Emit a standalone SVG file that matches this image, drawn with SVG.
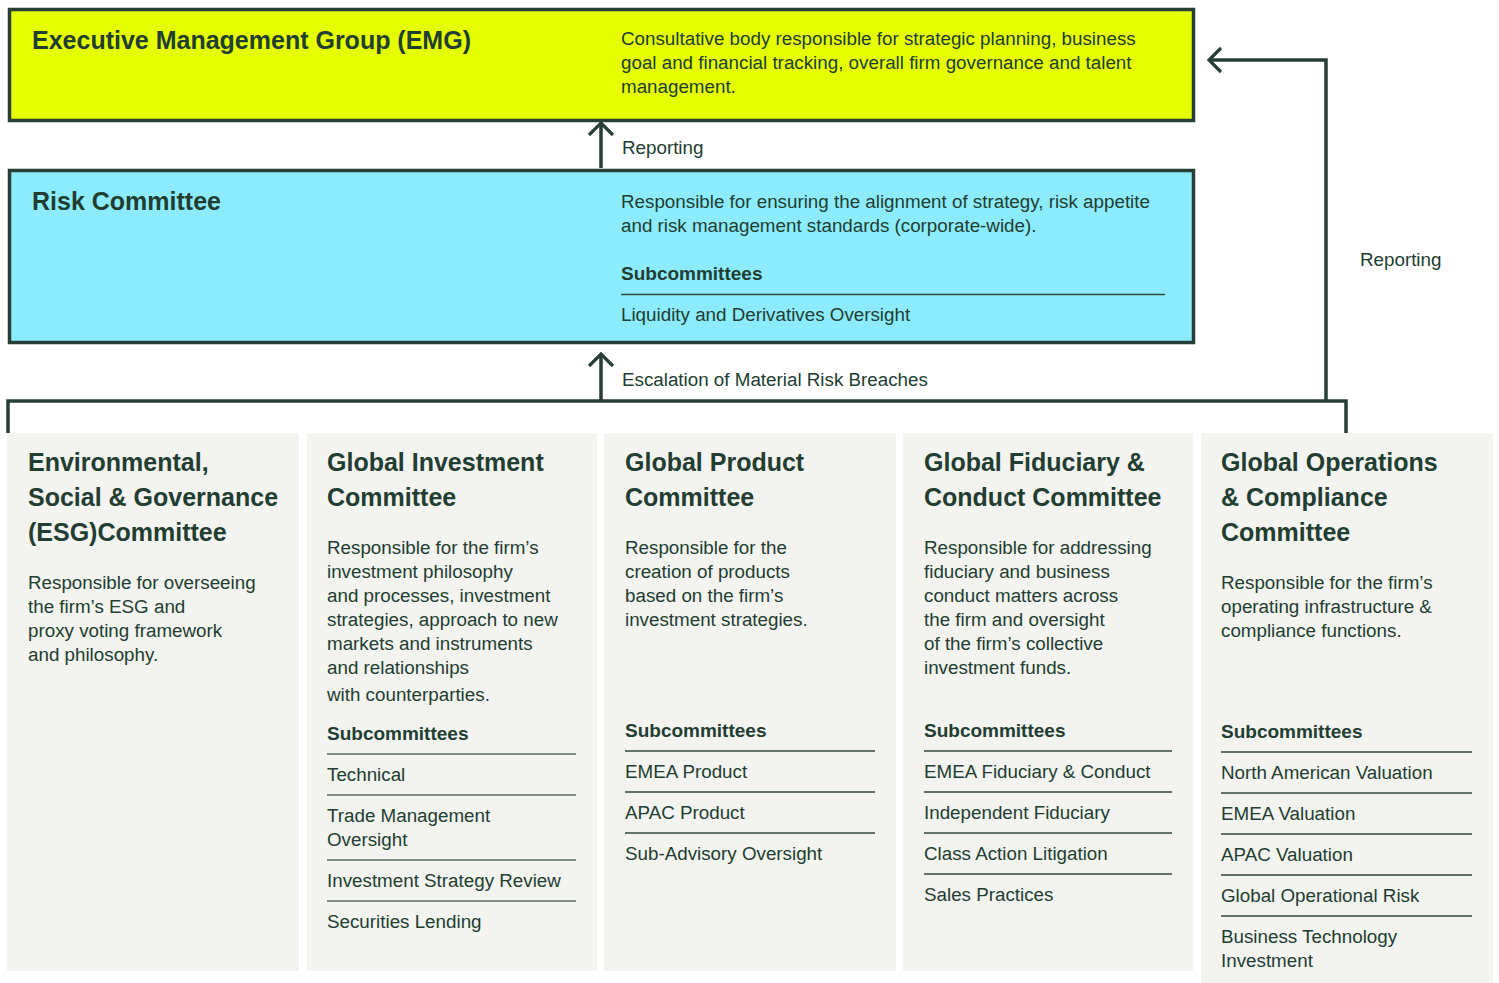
<svg xmlns="http://www.w3.org/2000/svg" width="1499" height="983" viewBox="0 0 1499 983">
<style>
text{font-family:"Liberation Sans",Arial,sans-serif;fill:#223d31}
.t{font-size:25px;font-weight:bold}
.b{font-size:18.8px}
.h{font-size:19px;font-weight:bold}
.lbl{font-size:18.8px}
.panel{fill:#f3f3ef}
.sep{stroke:#33473d;stroke-width:1.5}
.sep2{stroke:#7f8b83;stroke-width:2}
.conn{fill:none;stroke:#283f35;stroke-width:3.5}
</style>
<defs>
<marker id="chev" viewBox="-16 -14 18 28" refX="0" refY="0" markerWidth="18" markerHeight="28" markerUnits="userSpaceOnUse" orient="auto">
<path d="M-12,-12 L0,0 L-12,12" fill="none" stroke="#283f35" stroke-width="3.2"/>
</marker>
</defs>
<rect width="1499" height="983" fill="#ffffff"/>

<g id="connectors">
<path class="conn" d="M601,168 V123" marker-end="url(#chev)"/>
<path class="conn" d="M601,400 V354" marker-end="url(#chev)"/>
<path class="conn" d="M8,433 V401 H1346 V433"/>
<path class="conn" d="M1326,401 V60 H1209" marker-end="url(#chev)"/>
<text class="lbl" x="622" y="154">Reporting</text>
<text class="lbl" x="622" y="386">Escalation of Material Risk Breaches</text>
<text class="lbl" x="1360" y="266">Reporting</text>
</g>

<g id="emg">
<rect x="9.5" y="9.5" width="1184" height="111" fill="#e5ff00" stroke="#283f35" stroke-width="3.5"/>
<text class="t" x="32" y="49">Executive Management Group (EMG)</text>
<text class="b" x="621" y="45">Consultative body responsible for strategic planning, business</text>
<text class="b" x="621" y="69">goal and financial tracking, overall firm governance and talent</text>
<text class="b" x="621" y="93">management.</text>
</g>

<g id="risk">
<rect x="9.5" y="170.5" width="1184" height="172" fill="#8cecfd" stroke="#283f35" stroke-width="3.5"/>
<text class="t" x="32" y="210">Risk Committee</text>
<text class="b" x="621" y="208">Responsible for ensuring the alignment of strategy, risk appetite</text>
<text class="b" x="621" y="232">and risk management standards (corporate-wide).</text>
<text class="h" x="621" y="280">Subcommittees</text>
<line class="sep" x1="621" y1="294.5" x2="1165" y2="294.5"/>
<text class="b" x="621" y="321">Liquidity and Derivatives Oversight</text>
</g>

<g id="esg">
<rect class="panel" x="7" y="433" width="292" height="538"/>
<text class="t" x="28" y="471">Environmental,</text>
<text class="t" x="28" y="506">Social &amp; Governance</text>
<text class="t" x="28" y="541">(ESG)Committee</text>
<text class="b" x="28" y="589">Responsible for overseeing</text>
<text class="b" x="28" y="613">the firm’s ESG and</text>
<text class="b" x="28" y="637">proxy voting framework</text>
<text class="b" x="28" y="661">and philosophy.</text>
</g>

<g id="investment">
<rect class="panel" x="307" y="433" width="290" height="538"/>
<text class="t" x="327" y="471">Global Investment</text>
<text class="t" x="327" y="506">Committee</text>
<text class="b" x="327" y="554">Responsible for the firm’s</text>
<text class="b" x="327" y="578">investment philosophy</text>
<text class="b" x="327" y="602">and processes, investment</text>
<text class="b" x="327" y="626">strategies, approach to new</text>
<text class="b" x="327" y="650">markets and instruments</text>
<text class="b" x="327" y="674">and relationships</text>
<text class="b" x="327" y="701">with counterparties.</text>
<text class="h" x="327" y="740">Subcommittees</text>
<line class="sep2" x1="327" y1="754" x2="576" y2="754"/>
<text class="b" x="327" y="781">Technical</text>
<line class="sep2" x1="327" y1="795" x2="576" y2="795"/>
<text class="b" x="327" y="822">Trade Management</text>
<text class="b" x="327" y="846">Oversight</text>
<line class="sep2" x1="327" y1="860" x2="576" y2="860"/>
<text class="b" x="327" y="887">Investment Strategy Review</text>
<line class="sep2" x1="327" y1="901" x2="576" y2="901"/>
<text class="b" x="327" y="928">Securities Lending</text>
</g>

<g id="product">
<rect class="panel" x="604" y="433" width="292" height="538"/>
<text class="t" x="625" y="471">Global Product</text>
<text class="t" x="625" y="506">Committee</text>
<text class="b" x="625" y="554">Responsible for the</text>
<text class="b" x="625" y="578">creation of products</text>
<text class="b" x="625" y="602">based on the firm’s</text>
<text class="b" x="625" y="626">investment strategies.</text>
<text class="h" x="625" y="737">Subcommittees</text>
<line class="sep" x1="625" y1="751" x2="875" y2="751"/>
<text class="b" x="625" y="778">EMEA Product</text>
<line class="sep" x1="625" y1="792" x2="875" y2="792"/>
<text class="b" x="625" y="819">APAC Product</text>
<line class="sep" x1="625" y1="833" x2="875" y2="833"/>
<text class="b" x="625" y="860">Sub-Advisory Oversight</text>
</g>

<g id="fiduciary">
<rect class="panel" x="903" y="433" width="290" height="538"/>
<text class="t" x="924" y="471">Global Fiduciary &amp;</text>
<text class="t" x="924" y="506">Conduct Committee</text>
<text class="b" x="924" y="554">Responsible for addressing</text>
<text class="b" x="924" y="578">fiduciary and business</text>
<text class="b" x="924" y="602">conduct matters across</text>
<text class="b" x="924" y="626">the firm and oversight</text>
<text class="b" x="924" y="650">of the firm’s collective</text>
<text class="b" x="924" y="674">investment funds.</text>
<text class="h" x="924" y="737">Subcommittees</text>
<line class="sep" x1="924" y1="751" x2="1172" y2="751"/>
<text class="b" x="924" y="778">EMEA Fiduciary &amp; Conduct</text>
<line class="sep" x1="924" y1="792" x2="1172" y2="792"/>
<text class="b" x="924" y="819">Independent Fiduciary</text>
<line class="sep" x1="924" y1="833" x2="1172" y2="833"/>
<text class="b" x="924" y="860">Class Action Litigation</text>
<line class="sep" x1="924" y1="874" x2="1172" y2="874"/>
<text class="b" x="924" y="901">Sales Practices</text>
</g>

<g id="operations">
<rect class="panel" x="1201" y="433" width="292" height="550"/>
<text class="t" x="1221" y="471">Global Operations</text>
<text class="t" x="1221" y="506">&amp; Compliance</text>
<text class="t" x="1221" y="541">Committee</text>
<text class="b" x="1221" y="589">Responsible for the firm’s</text>
<text class="b" x="1221" y="613">operating infrastructure &amp;</text>
<text class="b" x="1221" y="637">compliance functions.</text>
<text class="h" x="1221" y="738">Subcommittees</text>
<line class="sep" x1="1221" y1="752" x2="1472" y2="752"/>
<text class="b" x="1221" y="779">North American Valuation</text>
<line class="sep" x1="1221" y1="793" x2="1472" y2="793"/>
<text class="b" x="1221" y="820">EMEA Valuation</text>
<line class="sep" x1="1221" y1="834" x2="1472" y2="834"/>
<text class="b" x="1221" y="861">APAC Valuation</text>
<line class="sep" x1="1221" y1="875" x2="1472" y2="875"/>
<text class="b" x="1221" y="902">Global Operational Risk</text>
<line class="sep" x1="1221" y1="916" x2="1472" y2="916"/>
<text class="b" x="1221" y="943">Business Technology</text>
<text class="b" x="1221" y="967">Investment</text>
</g>
</svg>
